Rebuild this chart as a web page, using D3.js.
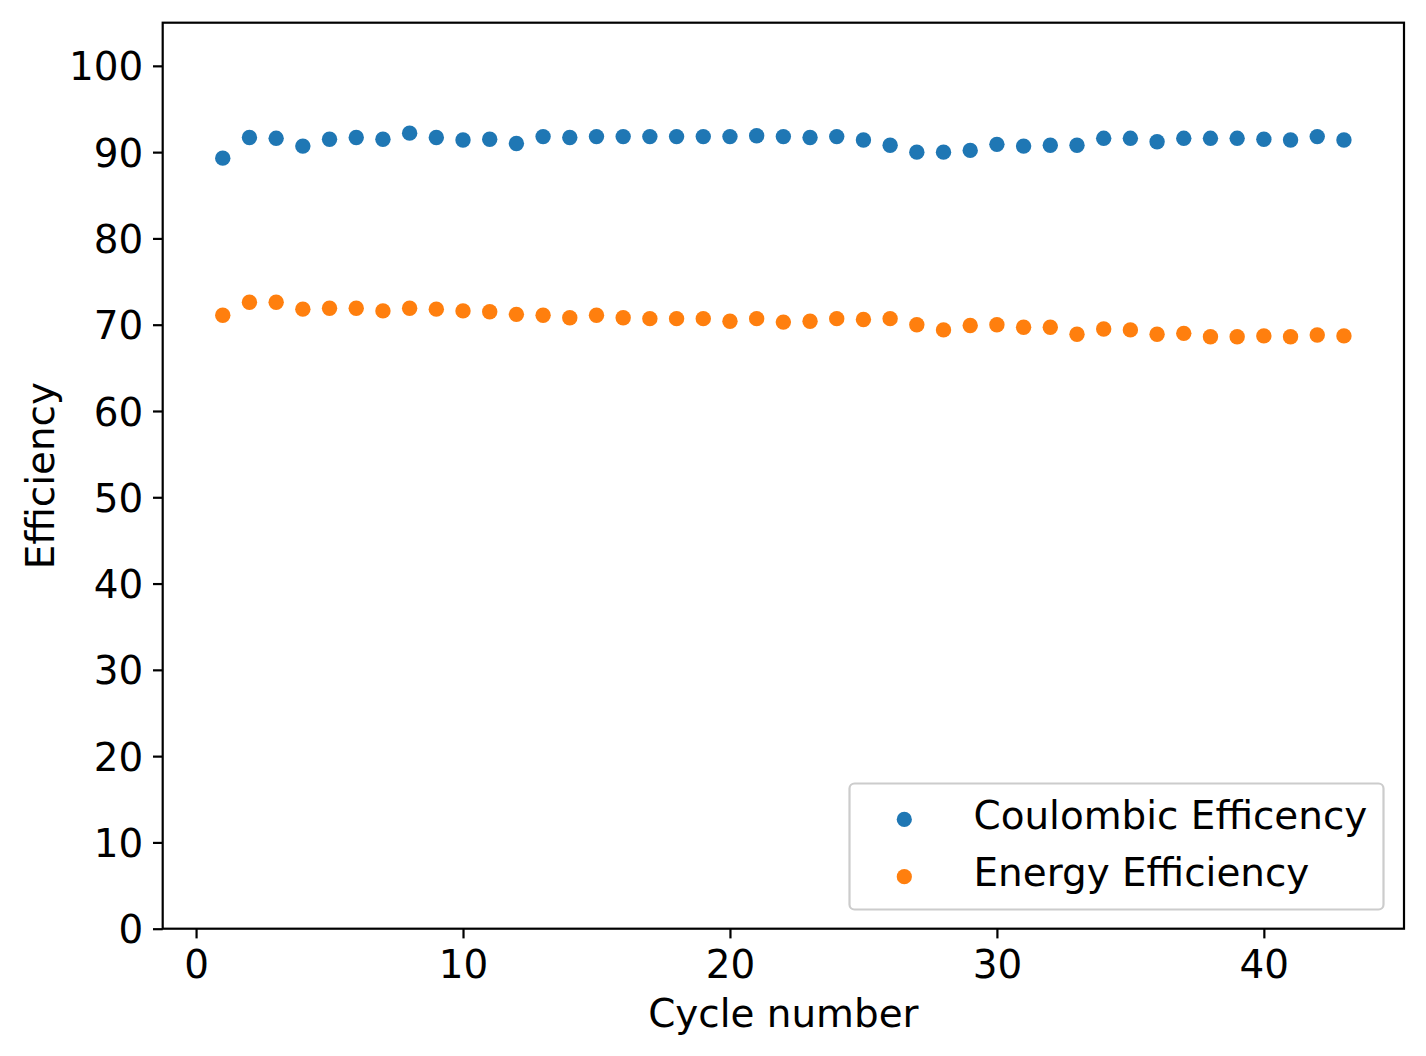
<!DOCTYPE html>
<html>
<head>
<meta charset="utf-8">
<script src="https://cdn.jsdelivr.net/npm/d3@7"></script>
<style>
  html, body { margin: 0; padding: 0; background: #fff; }
  svg { display: block; font-family: "DejaVu Sans", sans-serif; }
</style>
</head>
<body>
<div id="chart"></div>
<script>
const cycles = d3.range(1, 44);
const coulombicEfficiency = [
  89.3, 91.7, 91.6, 90.7, 91.5, 91.7, 91.5, 92.2, 91.7, 91.4,
  91.5, 91.0, 91.8, 91.7, 91.8, 91.8, 91.8, 91.8, 91.8, 91.8,
  91.9, 91.8, 91.7, 91.8, 91.4, 90.8, 90.0, 90.0, 90.2, 90.9,
  90.7, 90.8, 90.8, 91.6, 91.6, 91.2, 91.6, 91.6, 91.6, 91.5,
  91.4, 91.8, 91.4
];
const energyEfficiency = [
  71.1, 72.6, 72.6, 71.8, 71.9, 71.9, 71.6, 71.9, 71.8, 71.6,
  71.5, 71.2, 71.1, 70.8, 71.1, 70.8, 70.7, 70.7, 70.7, 70.4,
  70.7, 70.3, 70.4, 70.7, 70.6, 70.7, 70.0, 69.4, 69.9, 70.0,
  69.7, 69.7, 68.9, 69.5, 69.4, 68.9, 69.0, 68.6, 68.6, 68.7,
  68.6, 68.8, 68.7
];
const seriesNames = ["Coulombic Efficency", "Energy Efficiency"];
const seriesColors = ["#1f77b4", "#ff7f0e"];
const xTicks = [0, 10, 20, 30, 40];
const yTicks = [0, 10, 20, 30, 40, 50, 60, 70, 80, 90, 100];

const W = 1426, H = 1056;
const plotL = 162.7, plotR = 1404, plotT = 22.7, plotB = 928.7;
const fontSize = 38.9;

const svg = d3.select("#chart").append("svg").attr("width", W).attr("height", H);

const x = d3.scaleLinear().domain([-1.25, 45.25]).range([plotL, plotR]);
const y = d3.scaleLinear().domain([0, 105]).range([plotB, plotT]);

// points
const series = [coulombicEfficiency, energyEfficiency];
series.forEach((vals, i) => {
  svg.append("g").selectAll("circle")
    .data(cycles.map((c, j) => [c, vals[j]]))
    .join("circle")
    .attr("cx", d => x(d[0]))
    .attr("cy", d => y(d[1]))
    .attr("r", 7.7)
    .attr("fill", seriesColors[i]);
});

// axes
const xAxis = d3.axisBottom(x).tickValues(xTicks).tickSize(9.7).tickPadding(9.7).tickFormat(d3.format("d"));
const yAxis = d3.axisLeft(y).tickValues(yTicks).tickSize(9.7).tickPadding(9.7).tickFormat(d3.format("d"));

const gx = svg.append("g").attr("transform", `translate(0,${plotB})`).call(xAxis);
const gy = svg.append("g").attr("transform", `translate(${plotL},0)`).call(yAxis);
[gx, gy].forEach(g => {
  g.select(".domain").remove();
  g.selectAll(".tick line").attr("stroke", "#000").attr("stroke-width", 2.2);
  g.selectAll(".tick text").attr("fill", "#000").attr("font-size", fontSize)
    .attr("font-family", "DejaVu Sans, sans-serif");
});
gy.selectAll(".tick text").attr("dy", "0.36em");
gx.selectAll(".tick text").attr("dy", "0.76em");

// frame
svg.append("rect")
  .attr("x", plotL).attr("y", plotT)
  .attr("width", plotR - plotL).attr("height", plotB - plotT)
  .attr("fill", "none").attr("stroke", "#000").attr("stroke-width", 2.2);

// axis labels
svg.append("text")
  .attr("x", (plotL + plotR) / 2).attr("y", 1027)
  .attr("text-anchor", "middle").attr("font-size", fontSize).attr("fill", "#000")
  .text("Cycle number");
svg.append("text")
  .attr("transform", `translate(54,${(plotT + plotB) / 2}) rotate(-90)`)
  .attr("text-anchor", "middle").attr("font-size", fontSize).attr("fill", "#000")
  .text("Efficiency");

// legend
const lg = svg.append("g");
lg.append("rect")
  .attr("x", 849.5).attr("y", 783.5).attr("width", 534).attr("height", 126)
  .attr("rx", 5).attr("ry", 5)
  .attr("fill", "#fff").attr("fill-opacity", 0.8)
  .attr("stroke", "#cccccc").attr("stroke-width", 2.2);
const rowY = [819.4, 876.7];
seriesNames.forEach((name, i) => {
  lg.append("circle").attr("cx", 904.3).attr("cy", rowY[i]).attr("r", 7.6).attr("fill", seriesColors[i]);
  lg.append("text").attr("x", 973.5).attr("y", rowY[i] + 9.6)
    .attr("font-size", fontSize).attr("fill", "#000").text(name);
});
</script>
</body>
</html>
